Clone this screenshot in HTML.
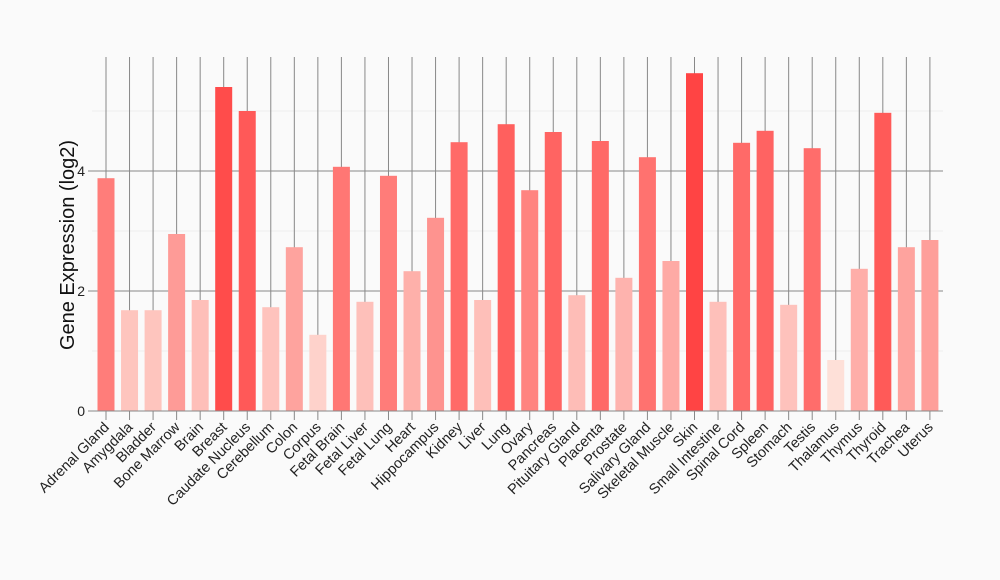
<!DOCTYPE html>
<html><head><meta charset="utf-8"><style>body{margin:0;background:#fafafa}svg{display:block}text{font-family:"Liberation Sans",sans-serif}</style></head>
<body>
<svg id="s" width="1000" height="580" xmlns="http://www.w3.org/2000/svg">
<rect width="1000" height="580" fill="#fafafa"/>
<g id="g"></g>
</svg>
<script>
const names=["Adrenal Gland","Amygdala","Bladder","Bone Marrow","Brain","Breast","Caudate Nucleus","Cerebellum","Colon","Corpus","Fetal Brain","Fetal Liver","Fetal Lung","Heart","Hippocampus","Kidney","Liver","Lung","Ovary","Pancreas","Pituitary Gland","Placenta","Prostate","Salivary Gland","Skeletal Muscle","Skin","Small Intestine","Spinal Cord","Spleen","Stomach","Testis","Thalamus","Thymus","Thyroid","Trachea","Uterus"];
const v=[3.88,1.68,1.68,2.95,1.85,5.4,5.0,1.73,2.73,1.27,4.07,1.82,3.92,2.33,3.22,4.48,1.85,4.78,3.68,4.65,1.93,4.5,2.22,4.23,2.5,5.63,1.82,4.47,4.67,1.77,4.38,0.85,2.37,4.97,2.73,2.85];
let h='';
const y0=411,k=60,X0=92,X1=943;
[1,3,5].forEach(t=>{h+=`<line x1="${X0}" x2="${X1}" y1="${y0-t*k}" y2="${y0-t*k}" stroke="#efefef" stroke-width="1"/>`});
[2,4].forEach(t=>{h+=`<line x1="${X0}" x2="${X1}" y1="${y0-t*k}" y2="${y0-t*k}" stroke="#888" stroke-width="1"/>`});
const cx=i=>106+i*23.54;
names.forEach((n,i)=>{h+=`<line x1="${cx(i)}" x2="${cx(i)}" y1="57" y2="420" stroke="#888" stroke-width="1"/>`});
names.forEach((n,i)=>{
 const t=Math.max(0,Math.min(1,(v[i]-0.85)/4.78));
 const g=Math.round(224-156*t),b=Math.round(216-148*t),r=Math.round(254+1*t);
 h+=`<rect x="${cx(i)-8.5}" y="${y0-v[i]*k}" width="17" height="${v[i]*k}" fill="rgb(${r},${g},${b})"/>`;
 h+=`<text transform="translate(${cx(i)+4},${428}) rotate(-45)" text-anchor="end" font-size="14.5" fill="#222">${n}</text>`;
});
h+=`<line x1="${X0}" x2="${X1}" y1="${y0}" y2="${y0}" stroke="#888"/>`;
[0,2,4].forEach(t=>{h+=`<line x1="88" x2="${X0}" y1="${y0-t*k}" y2="${y0-t*k}" stroke="#888"/><text x="85" y="${y0-t*k+5}" text-anchor="end" font-size="14" fill="#222">${t}</text>`});
h+=`<text transform="translate(74,245) rotate(-90)" text-anchor="middle" font-size="20" fill="#111">Gene Expression (log2)</text>`;
document.getElementById('g').innerHTML=h;
</script>
</body></html>
